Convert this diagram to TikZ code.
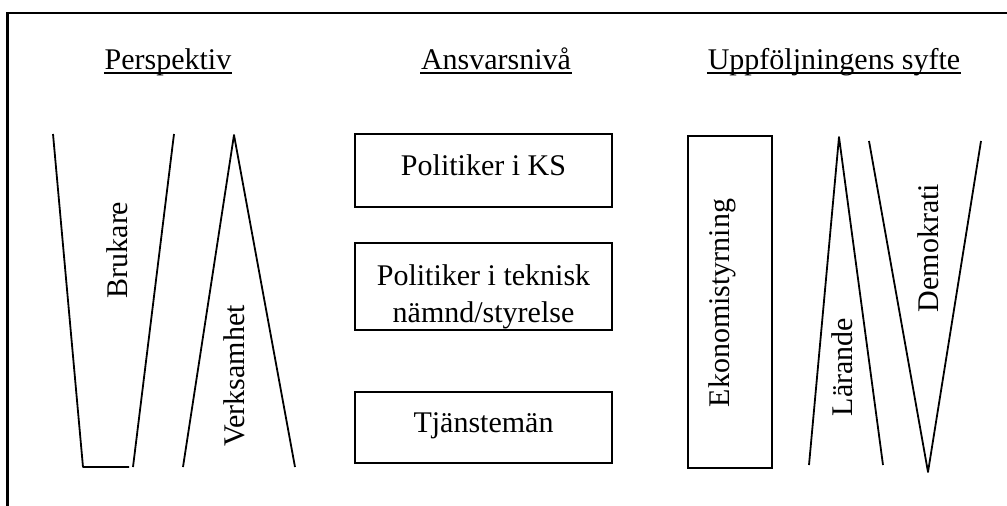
\documentclass[tikz,border=0pt]{standalone}
\usepackage{fontspec}
\setmainfont{Liberation Serif}
\begin{document}
\begin{tikzpicture}[x=1pt,y=-1pt,line width=1.8pt,line join=round,
  txt/.style={font=\fontsize{30}{37}\selectfont, inner sep=0pt},
  head/.style={txt, anchor=base},
  vtxt/.style={txt, anchor=base, rotate=90},
  box/.style={draw, line width=1.8pt, line join=miter, inner sep=0pt}]
\useasboundingbox (0,0) rectangle (1007,506);
% frame (cropped)
\draw[line width=2.2pt, line join=miter] (1020,13) -- (7.5,13) -- (7.5,520);
% headers
\node[head] (hP) at (168,69) {Perspektiv};
\node[head] (hA) at (496,69) {Ansvarsnivå};
\node[head] (hU) at (834,69) {Uppföljningens syfte};
\foreach \n in {hP,hA,hU}
  \draw[line width=1.6pt] ([yshift=-4pt]\n.base west) -- ([yshift=-4pt]\n.base east);
% Perspektiv shapes
\draw (53,134) -- (83,467) -- (129,467);
\draw (174,134) -- (133,467);
\draw (183,467) -- (234,135) -- (295,467);
\node[vtxt] (brukare) at (127,250) {Brukare};
\node[vtxt] (verks) at (244,376) {Verksamhet};
% Ansvarsniva boxes
\node[box, minimum width=257pt, minimum height=73pt] (b1) at (483.5,170.5) {};
\node[box, minimum width=257pt, minimum height=87pt] (b2) at (483.5,286.5) {};
\node[box, minimum width=257pt, minimum height=71pt] (b3) at (483.5,427.5) {};
\node[head] (t1) at (483.5,175) {Politiker i KS};
\node[txt, align=center] (t2) at (483.5,296.5) {Politiker i teknisk\\nämnd/styrelse};
\node[head] (t3) at (483.5,432) {Tjänstemän};
% Uppfoljning shapes
\node[box, minimum width=84pt, minimum height=332pt] (eko) at (730,302) {};
\node[vtxt] (ekot) at (729,303) {Ekonomistyrning};
\draw (809,465) -- (839,137) -- (883,465);
\draw (869,141) -- (928,472) -- (981,141);
\node[vtxt] (lar) at (852,367) {Lärande};
\node[vtxt] (dem) at (938,248) {Demokrati};
\end{tikzpicture}
\end{document}
